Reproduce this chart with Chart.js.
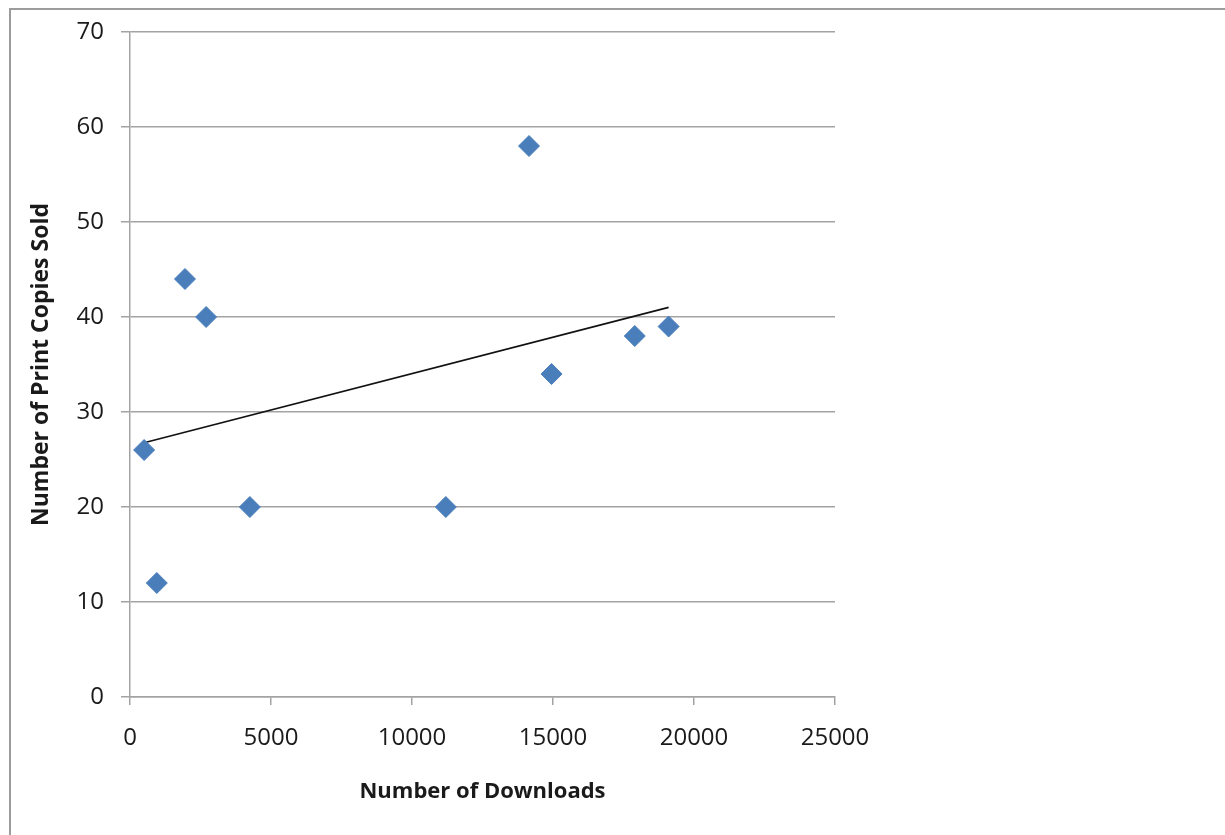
<!DOCTYPE html>
<html lang="en">
<head>
  <meta charset="UTF-8">
  <title>Downloads vs Print Copies</title>
  <script src="https://cdn.jsdelivr.net/npm/chart.js"></script>
  <style>
    html, body { margin: 0; padding: 0; background: #fff; }
    #wrap { position: relative; width: 1225px; height: 835px; }
  </style>
</head>
<body>
  <div id="wrap"><canvas id="myChart"></canvas></div>
  <script>
    // values
    const downloads = [500, 950, 1950, 2700, 4250, 11200, 14150, 14950, 17900, 19100];
    const printCopies = [26, 12, 44, 40, 20, 20, 58, 34, 38, 39];
    const xTicks = [0, 5000, 10000, 15000, 20000, 25000];
    const yTicks = [0, 10, 20, 30, 40, 50, 60, 70];

    const points = downloads.map((x, i) => ({ x: x, y: printCopies[i] }));

    // least squares trendline, drawn across the data range (like Excel's linear trendline)
    function trendline(xs, ys) {
      const n = xs.length;
      const mx = xs.reduce((a, b) => a + b, 0) / n;
      const my = ys.reduce((a, b) => a + b, 0) / n;
      let sxy = 0, sxx = 0;
      for (let i = 0; i < n; i++) {
        sxy += (xs[i] - mx) * (ys[i] - my);
        sxx += (xs[i] - mx) * (xs[i] - mx);
      }
      const slope = sxy / sxx;
      const icpt = my - slope * mx;
      const x0 = Math.min(...xs), x1 = Math.max(...xs);
      return [{ x: x0, y: icpt + slope * x0 }, { x: x1, y: icpt + slope * x1 }];
    }

    const gridGray = '#a3a3a3';
    const textColor = '#1a1a1a';

    // the thin frame round the chart object
    const framePlugin = {
      id: 'frame',
      beforeDraw(chart) {
        const c = chart.ctx;
        c.save();
        c.strokeStyle = '#9c9c9c';
        c.lineWidth = 2;
        c.beginPath();
        c.moveTo(10, chart.height);
        c.lineTo(10, 9);
        c.lineTo(chart.width, 9);
        c.stroke();
        c.restore();
      }
    };

    const ctx = document.getElementById('myChart').getContext('2d');
    new Chart(ctx, {
      type: 'scatter',
      data: {
        datasets: [{
          label: 'Copies',
          data: points,
          pointStyle: 'rectRot',
          pointRadius: 10.5,
          pointHoverRadius: 10.5,
          backgroundColor: '#4a7ebb',
          borderColor: '#4a7ebb',
          borderWidth: 1
        }, {
          label: 'Trend',
          type: 'line',
          data: trendline(downloads, printCopies),
          borderColor: '#111',
          borderWidth: 1.6,
          pointRadius: 0,
          fill: false
        }]
      },
      options: {
        responsive: true,
        maintainAspectRatio: false,
        animation: false,
        layout: { padding: { left: 0, right: 390, top: 32, bottom: 0 } },
        plugins: {
          legend: { display: false },
          tooltip: { enabled: false }
        },
        scales: {
          x: {
            type: 'linear',
            min: 0,
            max: 25000,
            afterBuildTicks: s => { s.ticks = xTicks.map(v => ({ value: v })); },
            afterFit: s => { s.height = 138; },
            ticks: {
              color: textColor,
              font: { family: 'Open Sans', size: 24 },
              padding: 19,
              maxRotation: 0,
              callback: v => String(v)
            },
            grid: {
              drawOnChartArea: false,
              tickLength: 8,
              color: gridGray,
              lineWidth: 1.5
            },
            border: { color: gridGray, width: 1.5 },
            title: {
              display: true,
              text: 'Number of Downloads',
              color: textColor,
              font: { family: 'Open Sans', size: 22, weight: 'bold' },
              padding: { top: 0, bottom: 30 }
            }
          },
          y: {
            min: 0,
            max: 70,
            afterBuildTicks: s => { s.ticks = yTicks.map(v => ({ value: v })); },
            afterFit: s => { s.width = 130; },
            ticks: {
              color: textColor,
              font: { family: 'Open Sans', size: 24 },
              padding: 17
            },
            grid: {
              tickLength: 9,
              color: gridGray,
              lineWidth: 1.5
            },
            border: { color: gridGray, width: 1.5 },
            title: {
              display: true,
              text: 'Number of Print Copies Sold',
              color: textColor,
              font: { family: 'Open Sans', size: 23, weight: 'bold' },
              padding: { top: 28, bottom: 0 }
            }
          }
        }
      },
      plugins: [framePlugin]
    });
  </script>
</body>
</html>
